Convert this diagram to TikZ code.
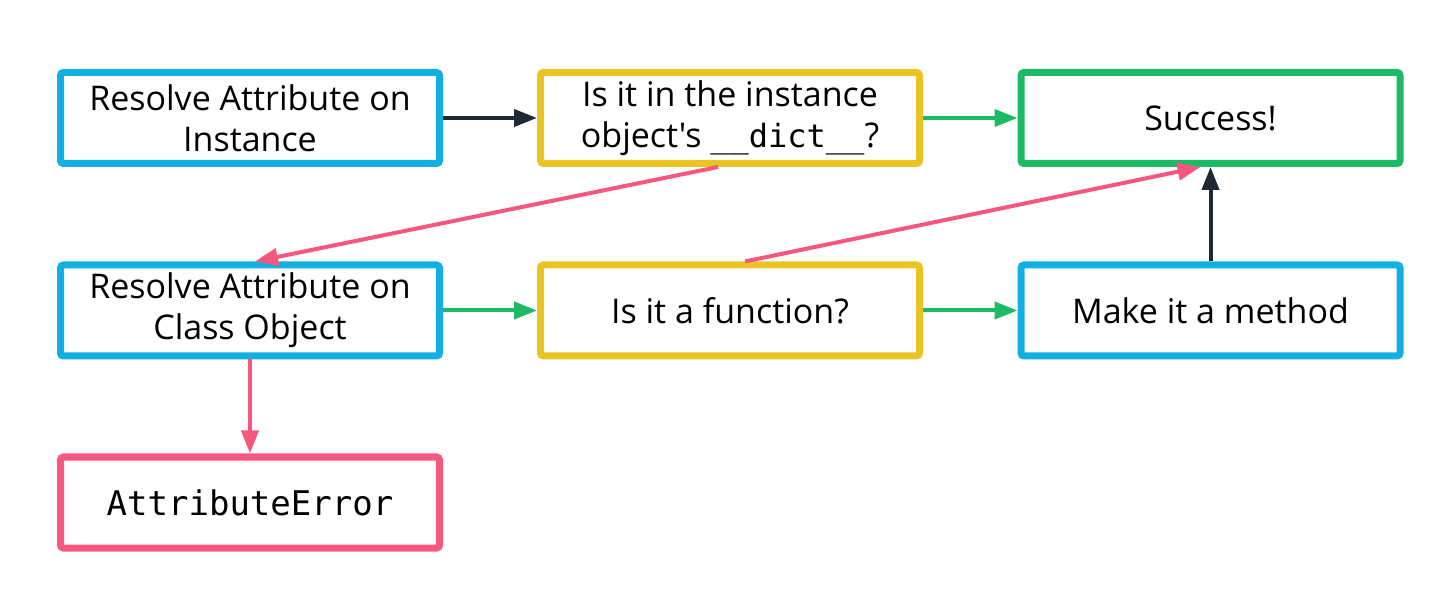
\documentclass[tikz,border=0pt]{standalone}
\usepackage{fontspec}
\setmainfont{Open Sans}[Ligatures=TeXOff]
\setmonofont{DejaVu Sans Mono}
\usetikzlibrary{arrows.meta}
\definecolor{boxblue}{HTML}{12B0E2}
\definecolor{boxyellow}{HTML}{E9C424}
\definecolor{boxgreen}{HTML}{1DBA65}
\definecolor{boxpink}{HTML}{F5577F}
\definecolor{edgedark}{HTML}{1F2933}

\begin{document}
\begin{tikzpicture}[x=0.5pt,y=-0.5pt, every node/.style={font=\fontsize{17pt}{20.5pt}\selectfont}]
			\tikzstyle{mybox} = [draw, line width=3.5pt, rounded corners=1.5pt, minimum width=189.5pt, minimum height=45.5pt, align=center, inner sep=0pt]
			\tikzstyle{myedgestyle} = [line width=2pt, -{Triangle[length=11.5pt,width=8.5pt]}]
			
			\useasboundingbox (0,0) rectangle (1456,598);
			
			\node [mybox, boxblue] (A) at (250,118) {\color{black}Resolve Attribute on\\\color{black}Instance};
			\node [mybox, boxyellow] (B) at (730,118) {\color{black}Is it in the instance\\\color{black}object's {\ttfamily\fontsize{16pt}{20.5pt}\selectfont \_\_dict\_\_}?};
			\node [mybox, boxgreen] (C) at (1210.5,118) {\color{black}Success!};
			
			\node [mybox, boxblue] (D) at (250,310.5) {\color{black}Resolve Attribute on\\\color{black}Class Object};
			\node [mybox, boxyellow] (E) at (730,310.5) {\color{black}Is it a function?};
			\node [mybox, boxblue] (F) at (1210.5,310.5) {\color{black}Make it a method};
			
			\node [mybox, boxpink] (G) at (250,502.5) {\color{black}\ttfamily\fontsize{17pt}{20pt}\selectfont AttributeError};
			
			\draw [myedgestyle, edgedark] (A) -- (B);
			\draw [myedgestyle, boxgreen] (B) -- (C);
			\draw [myedgestyle, boxpink] ([xshift=-6pt]B.south) -- ([xshift=2.5pt]D.north);
			\draw [myedgestyle, boxgreen] (D) -- (E);
			\draw [myedgestyle, boxgreen] (E) -- (F);
			\draw [myedgestyle, boxpink] ([xshift=7.5pt]E.north) -- ([xshift=-5pt]C.south);
			\draw [myedgestyle, edgedark] (F) -- (C);
			\draw [myedgestyle, boxpink] (D) -- (G);
			
\end{tikzpicture}
\end{document}
